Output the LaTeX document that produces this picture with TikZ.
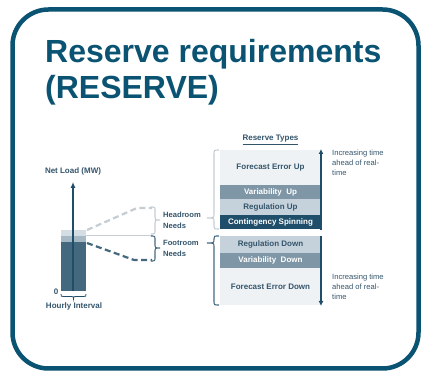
\documentclass[tikz,border=0pt]{standalone}
\usepackage{fontspec}
\setmainfont{Liberation Sans}
\usetikzlibrary{arrows.meta}

\definecolor{framecol}{HTML}{0B5373}
\definecolor{txtcol}{HTML}{34546B}
\definecolor{vlight}{HTML}{EEF2F5}
\definecolor{light}{HTML}{C6D2DB}
\definecolor{mid}{HTML}{7E96A6}
\definecolor{dark}{HTML}{1F4E6A}
\definecolor{barlt}{HTML}{D3DDE3}
\definecolor{barmd}{HTML}{A6B8C4}
\definecolor{bardk}{HTML}{44697F}
\definecolor{graybr}{HTML}{C3CDD3}

\begin{document}
\begin{tikzpicture}[
        x=1pt, y=-1pt,
        font=\bfseries\fontsize{8}{9}\selectfont, text=txtcol,
        ttl/.style={font=\bfseries\fontsize{32}{38}\selectfont, text=framecol,
                    inner sep=0, anchor=base west},
        resbox/.style={minimum width=101pt, inner sep=0, text=txtcol},
        lbl/.style={inner sep=0, align=left, anchor=west,
                    font=\bfseries\fontsize{7.6}{10.5}\selectfont},
        note/.style={inner sep=0, align=left, anchor=north west,
                     font=\fontsize{7.6}{9.8}\selectfont},
        arr/.style={-{Latex[length=5pt,width=5pt]}, line width=1.2pt, dark},
        brc/.style={line width=1.1pt},
        headln/.style={graybr, line width=2.2pt, dash pattern=on 6pt off 3.5pt},
        footln/.style={bardk, line width=2.2pt, dash pattern=on 6pt off 3.5pt}
      ]
        \useasboundingbox (0,0) rectangle (421,374);
        \draw[framecol, line width=4.5pt, rounded corners=36pt]
          (12.5,9.5) rectangle (418.5,368.5);

        \node[ttl] (ttl1) at (45,63) {Reserve requirements};
        \node[ttl] (ttl2) at (45,99) {(RESERVE)};

        % load bar
        \fill[barlt] (61,230) rectangle (86,236);
        \fill[barmd] (61,236) rectangle (86,242);
        \fill[bardk] (61,242) rectangle (86,291);
        \coordinate (base) at (73,291);
        \coordinate (top) at (73,182);
        \draw[-{Latex[length=6pt,width=5pt]}, line width=1.1pt, dark] (base) -- (top);
        \node (load) at (73,171) {Net Load (MW)};
        \node[inner sep=0] (zero) at (56,292) {0};
        \draw[dark, line width=0.8pt] (61,294) .. controls (61,296.5) .. (64,296.5)
          -- (71,296.5) .. controls (73.5,296.5) .. (73.5,299)
          .. controls (73.5,296.5) .. (76,296.5) -- (83,296.5)
          .. controls (86,296.5) .. (86,294);
        \node (hour) at (74,306) {Hourly Interval};

        % headroom / footroom
        \coordinate (hd0) at (87,230);
        \coordinate (hd1) at (137,208);
        \coordinate (hd2) at (152,208);
        \coordinate (ft0) at (87,243);
        \coordinate (ft1) at (134,260);
        \coordinate (ft2) at (152,260);
        \draw[headln] (hd0) -- (hd1) -- (hd2);
        \draw[footln] (ft0) -- (ft1) -- (ft2);
        \draw[graybr, line width=0.8pt] (86,235.5) -- (152,235.5);

        \draw[brc, graybr] (151,207) .. controls (155,207) .. (155,211) -- (155,217)
          .. controls (155,220) .. (160,220) .. controls (155,220) .. (155,223)
          -- (155,230) .. controls (155,234) .. (151,234);
        \draw[brc, bardk] (151,236) .. controls (155,236) .. (155,240) -- (155,244)
          .. controls (155,248) .. (160,248) .. controls (155,248) .. (155,252)
          -- (155,257) .. controls (155,261) .. (151,261);

        \node[lbl] (head) at (163,220.5) {Headroom\\Needs};
        \node[lbl] (foot) at (163,248.5) {Footroom\\Needs};

        % reserve types
        \node (rtyp) at (270.5,140) {\underline{Reserve Types}};
        \node[resbox, fill=vlight, minimum height=35pt] (feup) at (270.5,167.5) {Forecast Error Up};
        \node[resbox, fill=mid, text=white, minimum height=14pt] (varup) at (270.5,192) {Variability\ \ Up};
        \node[resbox, fill=light, minimum height=16pt] (regup) at (270.5,207) {Regulation Up};
        \node[resbox, fill=dark, text=white, minimum height=14pt] (spin) at (270.5,222) {Contingency Spinning};
        \node[resbox, fill=light, minimum height=17pt] (regdn) at (270.5,244.5) {Regulation Down};
        \node[resbox, fill=mid, text=white, minimum height=15pt] (vardn) at (270.5,260.5) {Variability\ \ Down};
        \node[resbox, fill=vlight, minimum height=37pt] (fedn) at (270.5,286.5) {Forecast Error Down};

        \draw[brc, graybr] (219,150) .. controls (214,150) .. (214,155) -- (214,213)
          .. controls (214,218) .. (207,218) .. controls (214,218) .. (214,222)
          -- (214,225) .. controls (214,229) .. (219,229);
        \draw[brc, bardk] (219,236) .. controls (214,236) .. (214,239)
          .. controls (214,243) .. (207,243) .. controls (214,243) .. (214,247)
          -- (214,301) .. controls (214,305) .. (219,305);

        \coordinate (upA) at (321,230);
        \coordinate (upB) at (321,149);
        \coordinate (dnA) at (321,236);
        \coordinate (dnB) at (321,306);
        \draw[arr] (upA) -- (upB);
        \draw[arr] (dnA) -- (dnB);
        \node[note] (n1) at (332,150) {Increasing time\\ahead of real-\\time};
        \node[note] (n2) at (332,274) {Increasing time\\ahead of real-\\time};
      \end{tikzpicture}
\end{document}
